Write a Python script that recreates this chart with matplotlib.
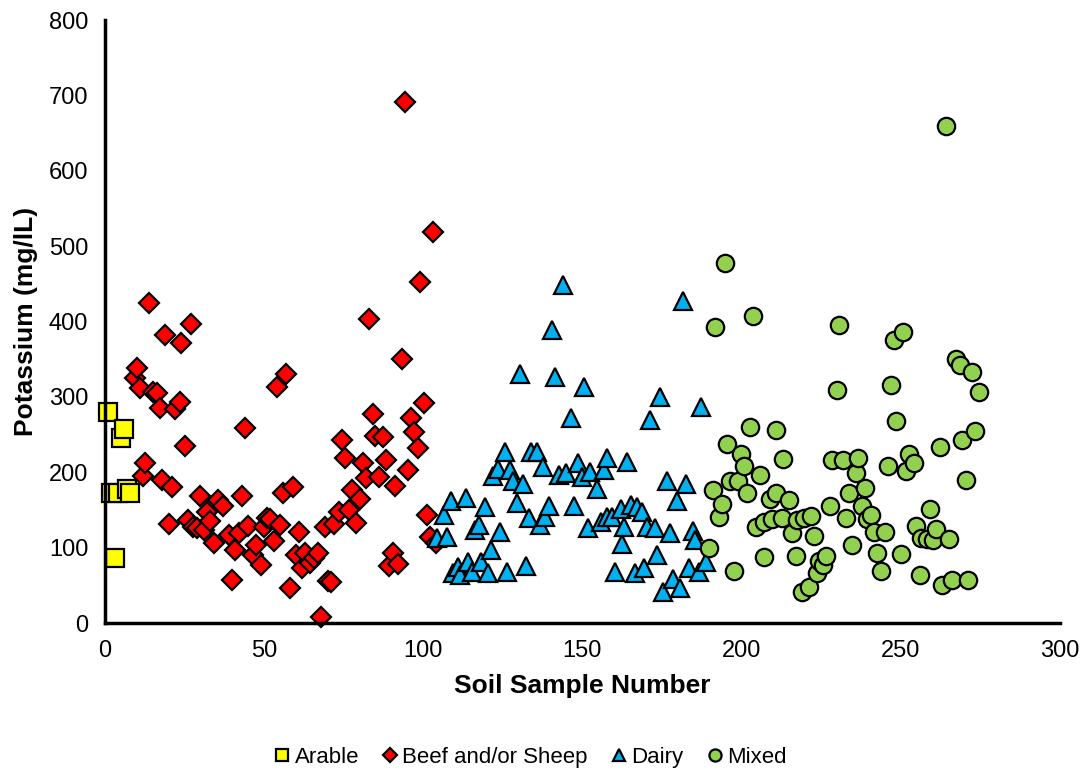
import matplotlib.pyplot as plt

# ---- data ----
arable_x = [1, 2, 3, 4, 5, 6, 7, 8]
arable_y = [280, 172, 86, 172, 246, 257, 178, 172]

beef_x = [9.4, 10, 11, 12, 12.6, 13.8, 15, 16.4, 17.3, 18, 19, 20, 21, 22, 23.5, 24, 25, 26, 27,
          27.7, 29, 30, 31, 32, 33, 34.3, 35.5, 37, 39, 40, 41, 42, 43, 44, 45, 46.5, 47.5, 49,
          50, 51, 52, 53, 54, 55, 56, 57, 58, 59, 60, 61, 62, 63, 64.5, 65.7, 67, 68, 69, 70,
          71, 72, 73.6, 74.5, 75.5, 76.7, 77.7, 79, 80, 81, 82, 83, 84.3, 85, 86, 87.4, 88.4,
          89.3, 90.6, 91, 92, 93.4, 94.3, 95.3, 96.2, 97.2, 98.4, 99, 100.3, 101.3, 102.2,
          103.1, 104]
beef_y = [325, 338, 312, 195, 213, 425, 306, 305, 286, 190, 382, 131, 180, 284, 294, 371, 235,
          137, 397, 127, 126, 168, 123, 147, 135, 106, 163, 156, 117, 57, 97, 119, 168, 259, 129,
          90, 103, 77, 127, 140, 138, 109, 313, 130, 172, 330, 46, 180, 90, 121, 73, 93, 80, 86,
          93, 8, 127, 56, 54, 131, 147, 243, 219, 150, 176, 133, 164, 212, 192, 403, 278, 248,
          194, 247, 216, 76, 93, 182, 78, 351, 692, 203, 272, 253, 232, 452, 292, 143, 114, 519,
          106]

dairy_x = [104.3, 106.4, 107.4, 108.7, 109.5, 111, 111.6, 113.5, 114.2, 115.3, 116.4, 117.4, 118,
           119.5, 120.5, 121.4, 122, 123.4, 124.2, 125.6, 126.3, 127.4, 128.2, 129.5, 130.3,
           131.5, 132.3, 133.3, 134, 135.7, 136.6, 137.5, 138.4, 139.4, 140.5, 141.5, 142.6, 144,
           145, 146.5, 147.5, 148.5, 150, 150.4, 151.7, 152.5, 154.6, 155.9, 156.7, 157.8, 157.8,
           159.3, 160.4, 162, 162.5, 163, 164, 165.3, 166.7, 167.2, 168.8, 169.3, 170.3, 171.4,
           172.7, 173.5, 174.5, 175.4, 176.6, 177.5, 178.5, 179.6, 180.8, 181.5, 182.7, 183.4,
           184.8, 185.5, 186.6, 187.4, 188.7]
dairy_y = [113, 143, 114, 162, 66, 74, 64, 166, 81, 68, 123, 130, 81, 154, 66, 97, 195, 205, 121,
           227, 68, 203, 188, 159, 331, 184, 76, 139, 227, 227, 130, 207, 141, 156, 389, 327, 196,
           448, 199, 272, 156, 213, 194, 313, 126, 200, 178, 134, 203, 219, 141, 141, 68, 151, 105,
           128, 214, 157, 66, 154, 147, 73, 128, 270, 126, 91, 300, 41, 188, 120, 58, 162, 46,
           428, 184, 73, 122, 110, 68, 287, 81]

mixed_x = [189.7, 191.1, 191.6, 192.9, 194, 194.8, 195.5, 196.5, 197.6, 199, 199.7, 200.7, 201.8,
           202.8, 203.7, 204.7, 205.8, 207, 207.2, 209.1, 209.6, 210.7, 210.9, 213, 212.8, 215,
           216, 217, 217.5, 218.9, 219.6, 221.2, 221.9, 222.7, 223.8, 224.3, 225.7, 226.7, 227.8,
           228.5, 230, 230.8, 232, 232.7, 233.7, 234.8, 236, 236.7, 237.9, 238.8, 239.5, 240.8,
           241.6, 242.6, 243.9, 245, 246, 247, 247.9, 248.7, 250, 250.8, 251.8, 252.5, 254.1,
           254.8, 256.2, 256.4, 258.3, 259.1, 260.1, 261.2, 262.4, 263, 264.4, 265.1, 266.3,
           267.3, 268.7, 269.2, 270.4, 271.3, 272.3, 273.4, 274.7]
mixed_y = [99, 176, 393, 141, 158, 478, 238, 188, 69, 188, 225, 208, 173, 260, 408, 128, 196, 88,
           134, 164, 138, 172, 256, 218, 140, 163, 120, 89, 137, 41, 139, 48, 142, 115, 66, 83, 77,
           89, 155, 217, 309, 395, 217, 139, 172, 103, 199, 219, 156, 179, 138, 144, 121, 93, 69,
           121, 208, 316, 375, 268, 92, 386, 202, 225, 212, 129, 64, 113, 111, 151, 110, 125, 233,
           51, 659, 112, 57, 351, 343, 243, 190, 57, 333, 255, 307]

# ---- figure ----
plt.rcParams['font.family'] = ['Liberation Sans', 'DejaVu Sans']
fig = plt.figure(figsize=(10.88, 7.75), dpi=100)
ax = fig.add_axes([0.0965, 0.196, 0.8775, 0.778])

common = dict(linestyle='none', markeredgecolor='black', markeredgewidth=1.6, clip_on=False)
ax.plot(arable_x, arable_y, marker='s', markersize=13, markerfacecolor='#FFFF00',
        label='Arable', **common)
ax.plot(beef_x, beef_y, marker='D', markersize=10.5, markerfacecolor='#FF0000',
        label='Beef and/or Sheep', **common)
ax.plot(dairy_x, dairy_y, marker='^', markersize=13, markerfacecolor='#00B0F0',
        label='Dairy', **common)
ax.plot(mixed_x, mixed_y, marker='o', markersize=12.5, markerfacecolor='#92D050',
        label='Mixed', **common)

ax.set_xlim(0, 300)
ax.set_ylim(0, 800)
ax.set_xticks(range(0, 301, 50))
ax.set_yticks(range(0, 801, 100))
ax.tick_params(length=0, labelsize=17, pad=12)
for side in ['top', 'right']:
    ax.spines[side].set_visible(False)
for side in ['left', 'bottom']:
    ax.spines[side].set_linewidth(2.5)

ax.set_xlabel('Soil Sample Number', fontsize=19, fontweight='bold', labelpad=9)
ax.set_ylabel('Potassium (mg/lL)', fontsize=19, fontweight='bold', labelpad=8)

leg = fig.legend(loc='center', bbox_to_anchor=(0.487, 0.023), ncol=4, frameon=False,
                 fontsize=16, markerscale=0.7, handlelength=0.8, handletextpad=0.15,
                 columnspacing=1.0)

fig.savefig('out.png', dpi=100)
